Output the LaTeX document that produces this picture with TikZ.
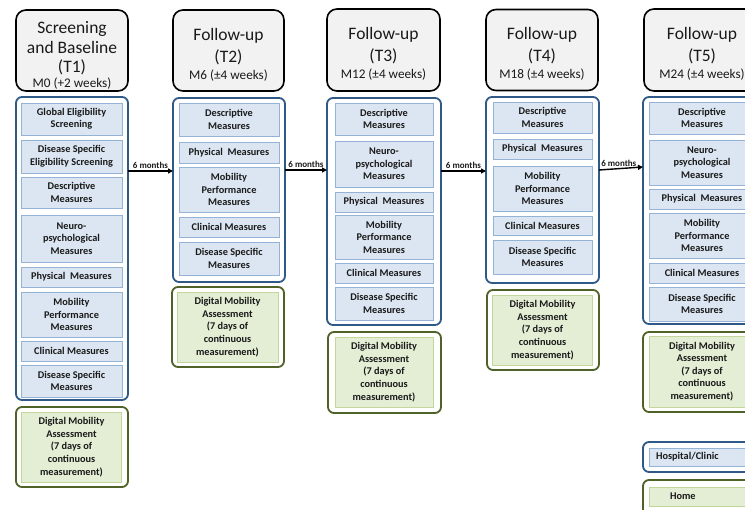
\documentclass[tikz,border=0pt]{standalone}
\usepackage{fontspec}
\setmainfont{Carlito}
\usetikzlibrary{arrows.meta}
\definecolor{hdrfill}{HTML}{F2F2F2}
\definecolor{bline}{HTML}{2F5A88}
\definecolor{ibfill}{HTML}{DCE6F2}
\definecolor{ibline}{HTML}{95B3D7}
\definecolor{gline}{HTML}{4F6228}
\definecolor{igfill}{HTML}{E3EED5}
\definecolor{igline}{HTML}{C3D69B}
\definecolor{txt}{HTML}{1A1A1A}
\newcommand{\subf}{\fontsize{13.2}{15}\selectfont}
\newcommand{\topstrut}[1]{\rule{0pt}{#1}}
\begin{document}
\begin{tikzpicture}[x=1pt,y=-1pt,
  sz/.style 2 args={minimum width=#1, minimum height=#2},
  hdr/.style={draw=black, line width=1.6pt, rounded corners=10pt, fill=hdrfill, inner sep=0pt, outer sep=0pt, align=center, font=\fontsize{17.5}{20}\selectfont, text=txt},
  obox/.style={draw=bline, line width=1.8pt, rounded corners=6pt, fill=white, inner sep=0pt, outer sep=0pt},
  ibox/.style={draw=ibline, line width=0.9pt, fill=ibfill, inner sep=0pt, outer sep=0pt, align=center, font=\bfseries\fontsize{10.3}{12.5}\selectfont, text=txt},
  ogbox/.style={draw=gline, line width=1.8pt, rounded corners=6pt, fill=white, inner sep=0pt, outer sep=0pt},
  igbox/.style={draw=igline, line width=0.9pt, fill=igfill, inner sep=0pt, outer sep=0pt, align=center, font=\bfseries\fontsize{10.3}{12.6}\selectfont, text=txt},
  arr/.style={line width=1.4pt, -{Triangle[length=5pt,width=5pt]}},
  lbl/.style={font=\bfseries\fontsize{9}{10}\selectfont, text=txt, inner sep=1.5pt}
]
\fill[white] (0,0) rectangle (745,510);
\useasboundingbox (0,0) rectangle (745,510);

% ---------- Column 1 ----------
\node[hdr, sz={112pt}{81pt}] (h1) at (72,50.5) {\topstrut{22pt}Screening\\and Baseline\\[-1pt](T1)\\[-5pt]\subf M0 (+2 weeks)};
\node[obox, sz={112pt}{303pt}] (b1) at (72,248.5) {};
\node[ibox, sz={101pt}{32pt}] (b1a) at (71.5,119) {Global Eligibility\\Screening};
\node[ibox, sz={101pt}{33pt}] (b1b) at (71.5,156.5) {Disease Specific\\Eligibility Screening};
\node[ibox, sz={101pt}{31pt}] (b1c) at (71.5,192.5) {Descriptive\\Measures};
\node[ibox, sz={101pt}{47pt}] (b1d) at (71.5,238.5) {Neuro-\\psychological\\Measures};
\node[ibox, sz={101pt}{20pt}] (b1e) at (71.5,277) {Physical\ \ Measures};
\node[ibox, sz={101pt}{45pt}] (b1f) at (71.5,314.5) {Mobility\\Performance\\Measures};
\node[ibox, sz={101pt}{20pt}] (b1g) at (71.5,351) {Clinical Measures};
\node[ibox, sz={101pt}{32pt}] (b1h) at (71.5,381) {Disease Specific\\Measures};
\node[ogbox, sz={112pt}{80pt}] (g1) at (72,447) {};
\node[igbox, sz={100pt}{70pt}] (g1a) at (71.5,447) {Digital Mobility\\Assessment\\(7 days of\\continuous\\measurement)};

% ---------- Column 2 ----------
\node[hdr, sz={111pt}{81pt}] (h2) at (228.5,50.5) {\topstrut{20pt}Follow-up\\[2pt](T2)\\[-3pt]\subf M6 (±4 weeks)};
\node[obox, sz={112pt}{184pt}] (b2) at (229,190) {};
\node[ibox, sz={100pt}{33pt}] (b2a) at (229,119.5) {Descriptive\\Measures};
\node[ibox, sz={100pt}{21pt}] (b2b) at (229,152.5) {Physical\ \ Measures};
\node[ibox, sz={100pt}{45pt}] (b2c) at (229,189.5) {Mobility\\Performance\\Measures};
\node[ibox, sz={100pt}{20pt}] (b2d) at (229,227) {Clinical Measures};
\node[ibox, sz={100pt}{33pt}] (b2e) at (229,258.5) {Disease Specific\\Measures};
\node[ogbox, sz={112pt}{80pt}] (g2) at (228,327) {};
\node[igbox, sz={101pt}{70pt}] (g2a) at (227.5,327) {Digital Mobility\\Assessment\\(7 days of\\continuous\\measurement)};

% ---------- Column 3 ----------
\node[hdr, sz={113pt}{82pt}] (h3) at (383.5,50) {\topstrut{20pt}Follow-up\\[2pt](T3)\\[-3pt]\subf M12 (±4 weeks)};
\node[obox, sz={114pt}{227pt}] (b3) at (384,211.5) {};
\node[ibox, sz={98pt}{32pt}] (b3a) at (384,119) {Descriptive\\Measures};
\node[ibox, sz={98pt}{46pt}] (b3b) at (384,164) {Neuro-\\psychological\\Measures};
\node[ibox, sz={98pt}{20pt}] (b3c) at (384,202) {Physical\ \ Measures};
\node[ibox, sz={98pt}{44pt}] (b3d) at (384,237) {Mobility\\Performance\\Measures};
\node[ibox, sz={98pt}{20pt}] (b3e) at (384,273) {Clinical Measures};
\node[ibox, sz={98pt}{33pt}] (b3f) at (384,303.5) {Disease Specific\\Measures};
\node[ogbox, sz={113pt}{81pt}] (g3) at (384.5,372.5) {};
\node[igbox, sz={98pt}{70pt}] (g3a) at (384,372) {Digital Mobility\\Assessment\\(7 days of\\continuous\\measurement)};

% ---------- Column 4 ----------
\node[hdr, sz={112pt}{81pt}] (h4) at (542,50) {\topstrut{20pt}Follow-up\\[2pt](T4)\\[-3pt]\subf M18 (±4 weeks)};
\node[obox, sz={113pt}{186pt}] (b4) at (542.5,190) {};
\node[ibox, sz={99pt}{31pt}] (b4a) at (542.5,117.5) {Descriptive\\Measures};
\node[ibox, sz={99pt}{20pt}] (b4b) at (542.5,149) {Physical\ \ Measures};
\node[ibox, sz={99pt}{45pt}] (b4c) at (542.5,188.5) {Mobility\\Performance\\Measures};
\node[ibox, sz={99pt}{19pt}] (b4d) at (542.5,225.5) {Clinical Measures};
\node[ibox, sz={99pt}{34pt}] (b4e) at (542.5,257) {Disease Specific\\Measures};
\node[ogbox, sz={112pt}{80pt}] (g4) at (543,330) {};
\node[igbox, sz={100pt}{70pt}] (g4a) at (542.5,330) {Digital Mobility\\Assessment\\(7 days of\\continuous\\measurement)};

% ---------- Column 5 ----------
\node[hdr, sz={116pt}{82pt}] (h5) at (702,50) {\topstrut{20pt}Follow-up\\[2pt](T5)\\[-3pt]\subf M24 (±4 weeks)};
\node[obox, sz={118pt}{227pt}] (b5) at (702,210.5) {};
\node[ibox, sz={106pt}{32pt}] (b5a) at (702,118) {Descriptive\\Measures};
\node[ibox, sz={106pt}{45pt}] (b5b) at (702,162.5) {Neuro-\\psychological\\Measures};
\node[ibox, sz={106pt}{20pt}] (b5c) at (702,199) {Physical\ \ Measures};
\node[ibox, sz={106pt}{45pt}] (b5d) at (702,235.5) {Mobility\\Performance\\Measures};
\node[ibox, sz={106pt}{20pt}] (b5e) at (702,273) {Clinical Measures};
\node[ibox, sz={106pt}{34pt}] (b5f) at (702,304) {Disease Specific\\Measures};
\node[ogbox, sz={118pt}{80pt}] (g5) at (702,372) {};
\node[igbox, sz={106pt}{71pt}] (g5a) at (702,371.5) {Digital Mobility\\Assessment\\(7 days of\\continuous\\measurement)};

% ---------- Legend ----------
\node[obox, anchor=west, sz={120pt}{30pt}] (lh) at (643,457) {};
\node[ibox, anchor=west, sz={110pt}{18pt}, text width=96pt, inner xsep=7pt, align=left] (lha) at (649,457) {Hospital/Clinic};
\node[ogbox, anchor=west, sz={120pt}{36pt}] (lg) at (643,498) {};
\node[igbox, anchor=west, sz={110pt}{19pt}, text width=68pt, inner xsep=21pt, align=left] (lga) at (649,496.5) {Home};

% ---------- Arrows ----------
\coordinate (y1) at (0,171);
\coordinate (y2) at (0,170);
\coordinate (y3) at (0,171);
\coordinate (y4a) at (0,170);
\coordinate (y4b) at (0,167);
\draw[arr] (b1.east |- y1) -- node[lbl, above] {6 months} (b2.west |- y1);
\draw[arr] (b2.east |- y2) -- node[lbl, above] {6 months} (b3.west |- y2);
\draw[arr] (b3.east |- y3) -- node[lbl, above] {6 months} (b4.west |- y3);
\draw[arr] (b4.east |- y4a) -- node[lbl, above, pos=0.45] {6 months} (b5.west |- y4b);
\end{tikzpicture}
\end{document}
